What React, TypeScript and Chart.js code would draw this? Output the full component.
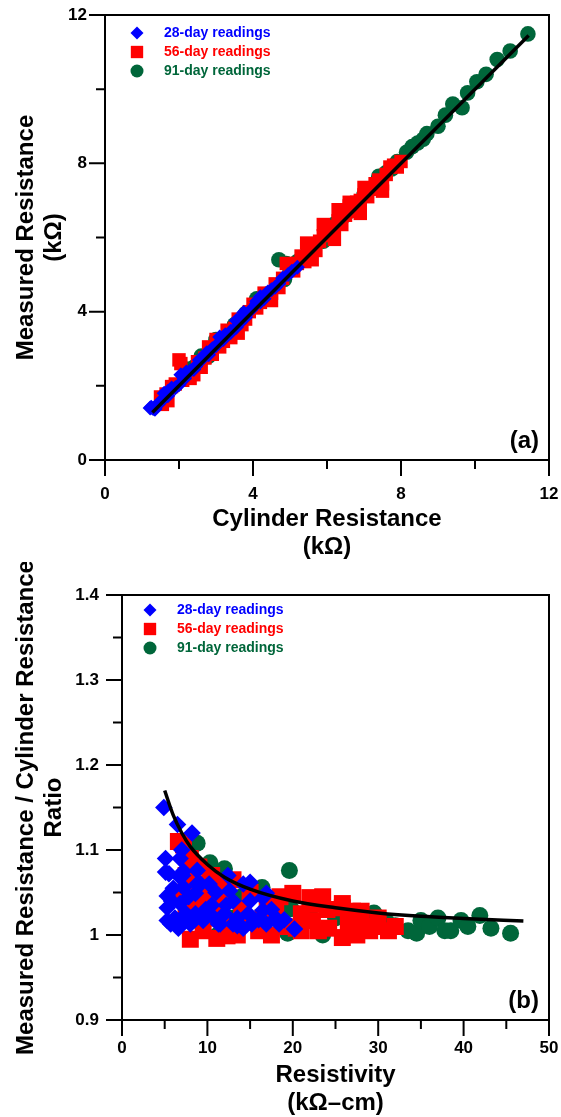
import React, { useEffect, useRef } from 'react';
import { Chart, registerables } from 'chart.js';

Chart.register(...registerables);

const FONT = '"Liberation Sans", Arial, Helvetica, sans-serif';
const BLUE = '#0000FF';
const RED = '#FF0000';
const GREEN = '#00663A';

const legendLabels = ['28-day readings', '56-day readings', '91-day readings'];

// ---------- Panel (a): measured vs cylinder resistance ----------
const topX28 = [1.22, 1.25, 1.3, 1.35, 1.35, 1.35, 1.5, 1.6, 1.7, 1.7, 1.7, 1.8, 1.9, 2.0, 2.05, 2.15, 2.15, 2.2, 2.2, 2.4, 2.45, 2.55, 2.6, 2.75, 2.8, 3.0, 3.1, 3.25, 3.4, 3.4, 3.55, 3.55, 3.75, 3.75, 3.8, 4.1, 4.1, 4.2, 4.2, 4.4, 4.5, 4.6, 4.8, 5.05, 5.2, 1.45, 1.55, 2.3, 2.9, 3.2, 3.65, 3.95, 4.3, 4.7, 4.95];
const topY28 = [1.4, 1.42, 1.39, 1.4, 1.39, 1.37, 1.58, 1.8, 1.85, 1.8, 1.73, 1.94, 1.95, 2.03, 2.3, 2.25, 2.2, 2.37, 2.33, 2.44, 2.52, 2.7, 2.69, 2.89, 2.84, 3.08, 3.32, 3.38, 3.47, 3.44, 3.58, 3.76, 3.98, 3.9, 3.85, 4.28, 4.22, 4.26, 4.4, 4.53, 4.59, 4.66, 4.9, 5.09, 5.2, 1.52, 1.62, 2.4, 3.0, 3.25, 3.7, 4.05, 4.35, 4.75, 5.0];

const topX56 = [1.5, 1.55, 1.65, 1.7, 1.8, 1.9, 2.0, 2.05, 2.2, 2.3, 2.4, 2.5, 2.6, 2.8, 2.9, 3.0, 3.2, 3.3, 3.4, 3.5, 3.6, 3.8, 4.0, 4.1, 4.3, 4.4, 4.5, 4.6, 4.8, 5.0, 5.1, 5.3, 5.4, 5.5, 5.6, 5.8, 6.0, 6.1, 6.3, 6.4, 6.5, 6.6, 6.8, 7.0, 7.2, 7.4, 7.5, 7.6, 7.8, 8.0, 2.1, 2.7, 3.1, 3.7, 3.9, 4.2, 4.7, 5.2, 5.7, 5.9, 6.2, 6.7, 6.9, 7.1, 7.3, 7.7, 7.9, 5.9, 6.3, 5.45, 6.6, 4.9, 7.0, 5.6, 6.2, 6.9, 7.5, 4.5, 3.6];
const topY56 = [1.7, 1.5, 1.78, 1.6, 1.98, 2.05, 2.7, 2.6, 2.35, 2.2, 2.3, 2.65, 2.5, 3.05, 2.85, 3.25, 3.2, 3.5, 3.3, 3.55, 3.8, 3.8, 4.2, 4.1, 4.5, 4.35, 4.5, 4.75, 4.9, 5.2, 5.1, 5.5, 5.35, 5.6, 5.8, 5.9, 6.2, 6.1, 6.45, 6.35, 6.6, 6.85, 6.95, 7.15, 7.3, 7.55, 7.45, 7.7, 7.95, 8.05, 2.15, 2.75, 3.05, 3.65, 4.0, 4.25, 4.65, 5.3, 5.65, 6.05, 6.3, 6.7, 7.0, 7.1, 7.45, 7.9, 7.9, 6.35, 6.75, 5.85, 6.95, 5.3, 7.35, 5.4, 5.95, 6.65, 7.25, 4.3, 3.42];

const topX91 = [2.2, 2.4, 2.6, 2.8, 3.0, 3.25, 3.5, 4.1, 4.25, 4.85, 4.9, 5.0, 5.5, 5.9, 6.25, 6.75, 7.4, 7.75, 8.15, 8.3, 8.6, 8.7, 9.0, 9.4, 9.65, 9.8, 10.05, 10.6, 10.95, 11.43, 3.8, 4.7, 5.2, 6.5, 7.0, 7.6, 7.9, 8.45, 9.2, 10.3];
const topY91 = [2.45, 2.5, 2.8, 2.8, 3.25, 3.3, 3.65, 4.35, 4.35, 4.87, 5.3, 5.15, 5.65, 5.9, 6.4, 6.8, 7.65, 7.85, 8.3, 8.45, 8.65, 8.8, 9.0, 9.6, 9.5, 9.9, 10.2, 10.8, 11.03, 11.49, 3.95, 5.4, 5.35, 6.6, 7.15, 7.75, 8.05, 8.55, 9.3, 10.4];

const topFitX = [1.28, 11.45];
const topFitY = [1.28, 11.45];

const topMajor = [0, 4, 8, 12];
const topMinor = [2, 6, 10];

// ---------- Panel (b): ratio vs resistivity ----------
const botX28 = [4.9, 5.1, 5.1, 5.3, 5.3, 5.3, 5.5, 5.7, 6.0, 6.5, 6.6, 6.8, 6.8, 6.8, 6.8, 7.1, 7.2, 7.2, 7.5, 8.0, 8.2, 8.4, 8.6, 8.6, 8.8, 8.8, 9.5, 9.5, 9.8, 10.2, 10.5, 11.0, 11.3, 11.5, 12.0, 12.4, 12.6, 13.0, 13.0, 13.5, 13.5, 14.2, 14.2, 15.0, 15.0, 15.2, 16.5, 16.5, 16.9, 16.9, 17.5, 18.0, 18.4, 20.2, 5.8, 6.2, 7.8, 9.2, 10.8, 12.2, 14.8, 16.0, 19.0, 7.0];
const botY28 = [1.15, 1.09, 1.074, 1.046, 1.032, 1.017, 1.072, 1.013, 1.055, 1.13, 1.008, 1.09, 1.068, 1.037, 1.017, 1.07, 1.075, 1.056, 1.025, 1.013, 1.12, 1.017, 1.049, 1.025, 1.076, 1.06, 1.017, 1.025, 1.03, 1.06, 1.035, 1.05, 1.013, 1.013, 1.025, 1.07, 1.052, 1.04, 1.013, 1.02, 1.011, 1.008, 1.06, 1.062, 1.04, 1.013, 1.044, 1.029, 1.013, 1.049, 1.03, 1.02, 1.013, 1.007, 1.04, 1.02, 1.045, 1.06, 1.02, 1.035, 1.025, 1.018, 1.018, 1.1];

const botX56 = [6.6, 7.0, 7.2, 7.5, 7.5, 7.7, 8.0, 8.0, 8.5, 8.5, 9.0, 9.0, 9.5, 10.0, 10.0, 10.3, 10.5, 11.0, 11.1, 11.5, 11.5, 12.0, 12.0, 12.3, 12.5, 13.0, 13.5, 14.0, 14.5, 15.0, 16.0, 16.5, 17.0, 17.5, 18.0, 18.5, 19.0, 20.0, 20.4, 21.0, 21.0, 22.0, 22.3, 22.3, 23.0, 24.0, 24.2, 25.8, 25.8, 25.8, 26.6, 27.0, 28.0, 28.0, 29.0, 30.0, 31.2, 32.0, 23.5, 26.5, 29.5, 27.5];
const botY56 = [1.11, 1.045, 1.106, 1.07, 1.02, 1.056, 1.09, 0.995, 1.06, 1.03, 1.04, 1.08, 1.005, 1.05, 1.02, 1.064, 1.07, 1.03, 0.996, 1.06, 1.037, 1.045, 1.005, 0.999, 1.01, 1.065, 1.0, 1.03, 1.015, 1.05, 1.005, 1.02, 1.04, 1.0, 1.03, 1.045, 1.01, 1.049, 1.008, 1.025, 1.005, 1.044, 1.037, 1.017, 1.005, 1.03, 1.008, 1.037, 1.032, 0.997, 1.001, 1.028, 1.028, 1.015, 1.005, 1.02, 1.005, 1.01, 1.045, 1.015, 1.01, 1.0];

const botX91 = [8.8, 9.5, 10.3, 11.1, 12.0, 13.0, 14.0, 16.4, 17.0, 19.4, 19.6, 19.8, 22.0, 23.5, 25.0, 27.0, 29.5, 31.0, 32.0, 33.5, 34.5, 35.0, 36.0, 37.0, 37.8, 38.5, 39.7, 40.5, 41.9, 43.2, 45.5];
const botY91 = [1.108, 1.05, 1.085, 0.999, 1.078, 1.02, 1.045, 1.056, 1.025, 1.002, 1.076, 1.031, 1.03, 1.0, 1.02, 1.01, 1.026, 1.015, 1.011, 1.005, 1.002, 1.017, 1.01, 1.02, 1.005, 1.005, 1.017, 1.01, 1.023, 1.008, 1.002];

const botFitX = [5, 6, 7, 8, 10, 12, 15, 20, 25, 30, 35, 40, 47];
const botFitY = [1.17, 1.141, 1.12, 1.104, 1.083, 1.068, 1.054, 1.04, 1.032, 1.026, 1.022, 1.0195, 1.0165];

const botXMajor = [0, 10, 20, 30, 40, 50];
const botXMinor = [5, 15, 25, 35, 45];
const botYMajor = [0.9, 1.0, 1.1, 1.2, 1.3, 1.4];
const botYMinor = [0.95, 1.05, 1.15, 1.25, 1.35];

const pts = (xs: number[], ys: number[]) => xs.map((x, i) => ({ x, y: ys[i] }));

type Decor = {
  xMajor: number[]; xMinor: number[]; yMajor: number[]; yMinor: number[];
  legendMarkerX: number; legendTextX: number; legendRowsY: number[];
  panel: string;
};

function drawMarker(ctx: CanvasRenderingContext2D, shape: string, x: number, y: number, s: number, color: string) {
  ctx.fillStyle = color;
  ctx.beginPath();
  if (shape === 'diamond') {
    ctx.moveTo(x, y - s); ctx.lineTo(x + s, y); ctx.lineTo(x, y + s); ctx.lineTo(x - s, y); ctx.closePath();
  } else if (shape === 'square') {
    ctx.rect(x - s * 0.95, y - s * 0.95, s * 1.9, s * 1.9);
  } else {
    ctx.arc(x, y, s, 0, Math.PI * 2);
  }
  ctx.fill();
}

function decorPlugin(d: Decor) {
  return {
    id: 'decor',
    afterDraw(chart: any) {
      const ctx: CanvasRenderingContext2D = chart.ctx;
      const a = chart.chartArea;
      const xs = chart.scales.x;
      const ys = chart.scales.y;
      ctx.save();
      ctx.strokeStyle = '#000';
      ctx.lineWidth = 2;
      ctx.strokeRect(a.left, a.top, a.right - a.left, a.bottom - a.top);
      ctx.beginPath();
      d.xMajor.forEach((v) => { const p = xs.getPixelForValue(v); ctx.moveTo(p, a.bottom); ctx.lineTo(p, a.bottom + 16); });
      d.xMinor.forEach((v) => { const p = xs.getPixelForValue(v); ctx.moveTo(p, a.bottom); ctx.lineTo(p, a.bottom + 9); });
      d.yMajor.forEach((v) => { const p = ys.getPixelForValue(v); ctx.moveTo(a.left, p); ctx.lineTo(a.left - 16, p); });
      d.yMinor.forEach((v) => { const p = ys.getPixelForValue(v); ctx.moveTo(a.left, p); ctx.lineTo(a.left - 9, p); });
      ctx.stroke();

      const shapes = ['diamond', 'square', 'circle'];
      const colors = [BLUE, RED, GREEN];
      ctx.font = `bold 14px ${FONT}`;
      ctx.textAlign = 'left';
      ctx.textBaseline = 'middle';
      legendLabels.forEach((lab, i) => {
        const y = d.legendRowsY[i];
        drawMarker(ctx, shapes[i], d.legendMarkerX, y, 6.5, colors[i]);
        ctx.fillStyle = colors[i];
        ctx.fillText(lab, d.legendTextX, y);
      });

      ctx.fillStyle = '#000';
      ctx.font = `bold 24px ${FONT}`;
      ctx.textAlign = 'right';
      ctx.textBaseline = 'alphabetic';
      ctx.fillText(d.panel, a.right - 10, a.bottom - 12);
      ctx.restore();
    },
  };
}

const tickFont = { family: FONT, size: 17, weight: 'bold' as const };
const titleFont = { family: FONT, size: 24, weight: 'bold' as const, lineHeight: 1.15 };

function scatterSet(label: string, data: any[], color: string, style: string, radius: number, order: number) {
  return {
    type: 'scatter' as const,
    label,
    data,
    backgroundColor: color,
    borderColor: color,
    borderWidth: 0,
    pointStyle: style,
    pointRadius: radius,
    pointHoverRadius: radius,
    order,
  };
}

function fitSet(data: any[]) {
  return {
    type: 'line' as const,
    label: 'fit',
    data,
    borderColor: '#000',
    borderWidth: 3.5,
    pointRadius: 0,
    fill: false,
    tension: 0.4,
    cubicInterpolationMode: 'monotone' as const,
    order: 0,
  };
}

const fitX = (h: number) => (s: any) => {
  s.height = h; s.paddingLeft = 0; s.paddingRight = 0; s.paddingTop = 0; s.paddingBottom = 0;
};
const fitY = (w: number) => (s: any) => {
  s.width = w; s.paddingLeft = 0; s.paddingRight = 0; s.paddingTop = 0; s.paddingBottom = 0;
};

function topConfig(): any {
  return {
    type: 'scatter',
    data: {
      datasets: [
        fitSet(pts(topFitX, topFitY)),
        scatterSet(legendLabels[0], pts(topX28, topY28), BLUE, 'rectRot', 7.5, 1),
        scatterSet(legendLabels[1], pts(topX56, topY56), RED, 'rect', 9.5, 2),
        scatterSet(legendLabels[2], pts(topX91, topY91), GREEN, 'circle', 7.8, 3),
      ],
    },
    options: {
      responsive: false,
      animation: false,
      devicePixelRatio: 1,
      layout: { padding: { left: 0, top: 15, right: 12, bottom: 0 } },
      plugins: { legend: { display: false }, tooltip: { enabled: false } },
      scales: {
        x: {
          type: 'linear', min: 0, max: 12,
          grid: { display: false, drawTicks: false },
          border: { display: false },
          ticks: { stepSize: 4, padding: 24, color: '#000', font: tickFont, maxRotation: 0, autoSkip: false },
          title: { display: true, text: ['Cylinder Resistance', '(kΩ)'], color: '#000', font: titleFont, padding: { top: 0, bottom: 1 } },
          afterFit: fitX(102),
        },
        y: {
          type: 'linear', min: 0, max: 12,
          grid: { display: false, drawTicks: false },
          border: { display: false },
          ticks: { stepSize: 4, padding: 18, color: '#000', font: tickFont },
          title: { display: true, text: ['Measured Resistance', '(kΩ)'], color: '#000', font: titleFont, padding: { top: 13, bottom: 0 } },
          afterFit: fitY(105),
        },
      },
    },
    plugins: [decorPlugin({
      xMajor: topMajor, xMinor: topMinor, yMajor: topMajor, yMinor: topMinor,
      legendMarkerX: 137, legendTextX: 164, legendRowsY: [33, 52, 71], panel: '(a)',
    })],
  };
}

function botConfig(): any {
  return {
    type: 'scatter',
    data: {
      datasets: [
        fitSet(pts(botFitX, botFitY)),
        scatterSet(legendLabels[0], pts(botX28, botY28), BLUE, 'rectRot', 8.8, 1),
        scatterSet(legendLabels[1], pts(botX56, botY56), RED, 'rect', 12, 2),
        scatterSet(legendLabels[2], pts(botX91, botY91), GREEN, 'circle', 8.5, 3),
      ],
    },
    options: {
      responsive: false,
      animation: false,
      devicePixelRatio: 1,
      layout: { padding: { left: 0, top: 33, right: 10, bottom: 0 } },
      plugins: { legend: { display: false }, tooltip: { enabled: false } },
      scales: {
        x: {
          type: 'linear', min: 0, max: 50,
          grid: { display: false, drawTicks: false },
          border: { display: false },
          ticks: { stepSize: 10, padding: 18, color: '#000', font: tickFont, maxRotation: 0, autoSkip: false },
          title: { display: true, text: ['Resistivity', '(kΩ–cm)'], color: '#000', font: titleFont, padding: { top: 0, bottom: 0 } },
          afterFit: fitX(97),
        },
        y: {
          type: 'linear', min: 0.9, max: 1.4,
          grid: { display: false, drawTicks: false },
          border: { display: false },
          ticks: {
            stepSize: 0.1, padding: 23, color: '#000', font: tickFont,
            callback: (v: any) => String(Math.round(Number(v) * 10) / 10),
          },
          title: { display: true, text: ['Measured Resistance / Cylinder Resistance', 'Ratio'], color: '#000', font: titleFont, padding: { top: 13, bottom: 0 } },
          afterFit: fitY(122),
        },
      },
    },
    plugins: [decorPlugin({
      xMajor: botXMajor, xMinor: botXMinor, yMajor: botYMajor, yMinor: botYMinor,
      legendMarkerX: 150, legendTextX: 177, legendRowsY: [48, 67, 86], panel: '(b)',
    })],
  };
}

export default function App() {
  const topRef = useRef<HTMLCanvasElement>(null);
  const botRef = useRef<HTMLCanvasElement>(null);
  useEffect(() => {
    const c1 = new Chart(topRef.current as HTMLCanvasElement, topConfig());
    const c2 = new Chart(botRef.current as HTMLCanvasElement, botConfig());
    return () => { c1.destroy(); c2.destroy(); };
  }, []);
  return (
    <div style={{ position: 'absolute', left: 0, top: 0, width: 561, height: 1117, background: '#fff', overflow: 'hidden' }}>
      <canvas ref={topRef} width={561} height={562} style={{ position: 'absolute', left: 0, top: 0, width: 561, height: 562 }} />
      <canvas ref={botRef} width={561} height={555} style={{ position: 'absolute', left: 0, top: 562, width: 561, height: 555 }} />
    </div>
  );
}
